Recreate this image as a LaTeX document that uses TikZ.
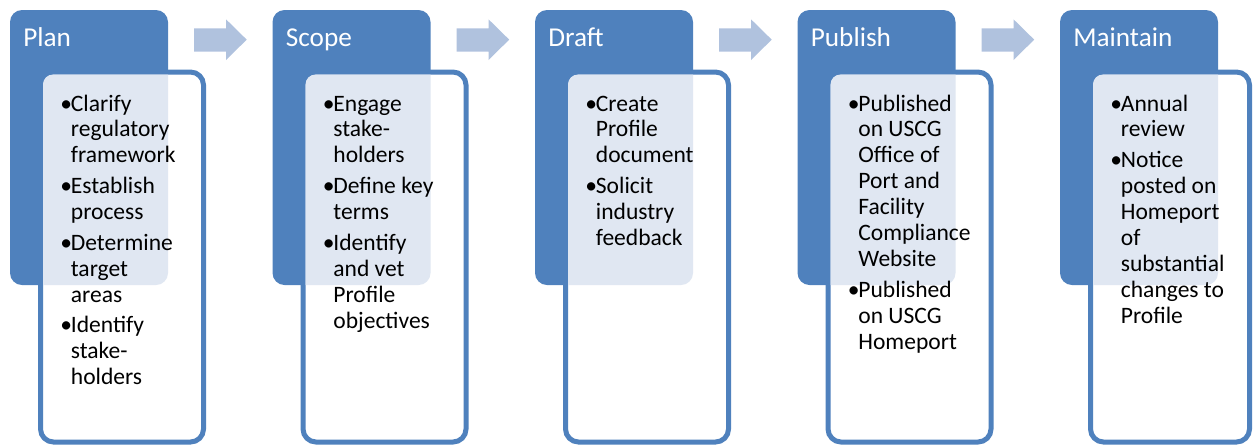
\documentclass[tikz,border=0pt]{standalone}
\usepackage{fontspec}
\setmainfont{Carlito}

\definecolor{stageblue}{HTML}{4F81BD}
\definecolor{arrowblue}{HTML}{B0C2DE}
\definecolor{dotblue}{HTML}{E0E7F2}

\tikzset{
  header/.style={fill=stageblue, rounded corners=0.24cm},
  itembox/.style={draw=stageblue, fill=white, line width=0.1cm, rounded corners=0.26cm},
  overlap/.style={fill=dotblue, rounded corners=0.2cm},
  flowarrow/.style={fill=arrowblue},
  title/.style={anchor=base west, inner sep=0pt, text=white, font=\fontsize{15.5}{18}\selectfont},
  items/.style={anchor=base west, inner sep=0pt, font=\fontsize{13.4}{14.74}\selectfont},
}

\newcommand{\bl}{\makebox[6pt][l]{\textbullet}}
\newcommand{\itemgap}{\\[2.8pt]}

\begin{document}
\begin{tikzpicture}[x=0.02cm, y=-0.02cm]
  \useasboundingbox (0,0) rectangle (1253,447);

  % blue title block, white list box, shaded where they overlap
  \foreach \dx/\w in {0/203.5, 262.5/203.5, 525/203.5, 787.5/203.5, 1050/199.5} {
    \fill[header] (10+\dx,10) rectangle (168+\dx,285);
    \draw[itembox] (40.5+\dx,72) rectangle (\w+\dx,442);
    \begin{scope}
      \clip[rounded corners=0.24cm] (10+\dx,10) rectangle (168+\dx,285);
      \fill[overlap] (43+\dx,74.5) rectangle (\w-2.5+\dx,439.5);
    \end{scope}
  }

  % block arrows between the stages
  \foreach \dx in {0, 262.5, 525, 787.5}
    \fill[flowarrow, shift={(\dx,0)}] (194,28.3) -- (226,28.3) -- (226,19.3)
      -- (246.7,39.65) -- (226,60) -- (226,51.7) -- (194,51.7) -- cycle;

  \node[title] (plan)     at (23,46.7)      {Plan};
  \node[title] (scope)    at (23+262.5,46.7) {Scope};
  \node[title] (draft)    at (23+525,46.7)   {Draft};
  \node[title] (publish)  at (23+787.5,46.7) {Publish};
  \node[title] (maintain) at (23+1050,46.7)  {Maintain};

  \node[items] (plan-items) at (60,111) {\begin{tabular}[t]{@{}l@{}l@{}}
    \bl & Clarify\\ & regulatory\\ & framework\itemgap
    \bl & Establish\\ & process\itemgap
    \bl & Determine\\ & target\\ & areas\itemgap
    \bl & Identify\\ & stake-\\ & holders
  \end{tabular}};

  \node[items] (scope-items) at (60+262.5,111) {\begin{tabular}[t]{@{}l@{}l@{}}
    \bl & Engage\\ & stake-\\ & holders\itemgap
    \bl & Define key\\ & terms\itemgap
    \bl & Identify\\ & and vet\\ & Profile\\ & objectives
  \end{tabular}};

  \node[items] (draft-items) at (60+525,111) {\begin{tabular}[t]{@{}l@{}l@{}}
    \bl & Create\\ & Profile\\ & document\itemgap
    \bl & Solicit\\ & industry\\ & feedback
  \end{tabular}};

  \node[items] (publish-items) at (60+787.5,111) {\begin{tabular}[t]{@{}l@{}l@{}}
    \bl & Published\\ & on USCG\\ & Office of\\ & Port and\\ & Facility\\ & Compliance\\ & Website\itemgap
    \bl & Published\\ & on USCG\\ & Homeport
  \end{tabular}};

  \node[items] (maintain-items) at (60+1050,111) {\begin{tabular}[t]{@{}l@{}l@{}}
    \bl & Annual\\ & review\itemgap
    \bl & Notice\\ & posted on\\ & Homeport\\ & of\\ & substantial\\ & changes to\\ & Profile
  \end{tabular}};
\end{tikzpicture}
\end{document}
